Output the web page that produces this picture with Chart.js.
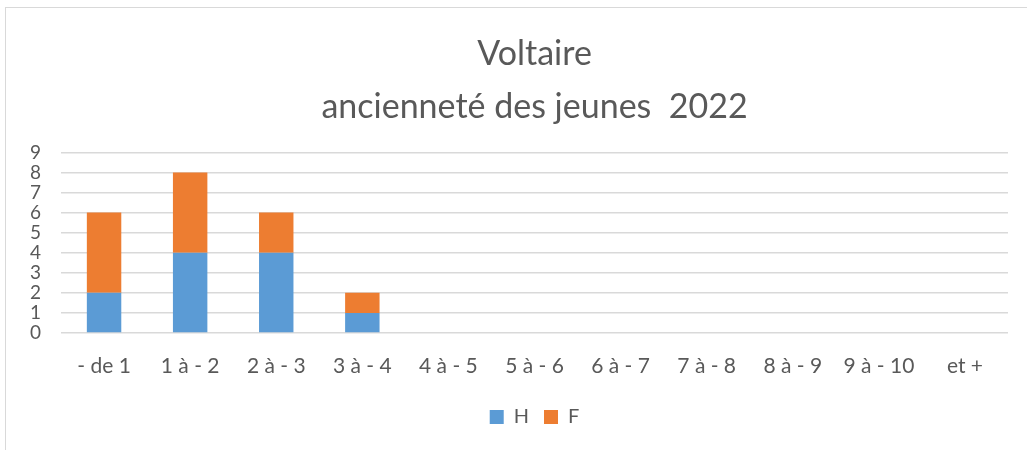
<!DOCTYPE html>
<html lang="fr">
<head>
<meta charset="utf-8">
<title>Voltaire - ancienneté des jeunes 2022</title>
<script src="https://cdn.jsdelivr.net/npm/chart.js@4/dist/chart.umd.min.js"></script>
<style>
    html, body { margin: 0; padding: 0; background: #fff; }
    #cadre {
        position: absolute; left: 5px; top: 7px; width: 1040px; height: 460px;
        border-left: 1px solid #d9d9d9; border-top: 1px solid #d9d9d9;
    }
    #zone { position: absolute; left: 0; top: 0; width: 1027px; height: 450px; }
</style>
</head>
<body>
<div id="cadre"></div>
<div id="zone"><canvas id="ancienneteChart"></canvas></div>
<script>
// Catégories d'ancienneté (en années)
const categories = ['- de 1', '1 à - 2', '2 à - 3', '3 à - 4', '4 à - 5', '5 à - 6', '6 à - 7', '7 à - 8', '8 à - 9', '9 à - 10', 'et +'];
// Nombre de jeunes par sexe
const valeursH = [2, 4, 4, 1, 0, 0, 0, 0, 0, 0, 0];
const valeursF = [4, 4, 2, 1, 0, 0, 0, 0, 0, 0, 0];
const titre = ['Voltaire', 'ancienneté des jeunes  2022'];

document.addEventListener('DOMContentLoaded', function() {
    const ctx = document.getElementById('ancienneteChart');
    const police = 'Lato, "Open Sans", sans-serif';
    const gris = '#595959';

    new Chart(ctx, {
        type: 'bar',
        data: {
            labels: categories,
            datasets: [
                {
                    label: 'H',
                    data: valeursH,
                    backgroundColor: '#5B9BD5',
                    categoryPercentage: 1,
                    barPercentage: 0.4
                },
                {
                    label: 'F',
                    data: valeursF,
                    backgroundColor: '#ED7D31',
                    categoryPercentage: 1,
                    barPercentage: 0.4
                }
            ]
        },
        options: {
            responsive: true,
            maintainAspectRatio: false,
            animation: false,
            layout: {
                padding: { top: 28, left: 10, right: 19, bottom: 13 }
            },
            plugins: {
                title: {
                    display: true,
                    fullSize: false,
                    text: titre,
                    color: gris,
                    font: { family: police, size: 34, weight: 'normal', lineHeight: 1.55 },
                    padding: { top: 0, bottom: 19 }
                },
                legend: {
                    display: true,
                    position: 'bottom',
                    fullSize: false,
                    labels: {
                        color: gris,
                        font: { family: police, size: 20 },
                        boxWidth: 14,
                        boxHeight: 14,
                        padding: 15
                    }
                },
                tooltip: { enabled: false }
            },
            scales: {
                x: {
                    stacked: true,
                    grid: { display: false },
                    border: { display: false },
                    ticks: {
                        color: gris,
                        font: { family: police, size: 21 },
                        padding: 13,
                        maxRotation: 0,
                        autoSkip: false
                    },
                    // hauteur fixe de l'axe pour placer la légende plus bas
                    afterFit: function(axis) {
                        axis.height = 59;
                    }
                },
                y: {
                    stacked: true,
                    min: 0,
                    max: 9,
                    border: { display: false },
                    grid: { color: '#d9d9d9', lineWidth: 1.5, drawTicks: false },
                    ticks: {
                        stepSize: 1,
                        autoSkip: false,
                        color: gris,
                        font: { family: police, size: 19 },
                        padding: 20
                    }
                }
            }
        }
    });
});
</script>
</body>
</html>
